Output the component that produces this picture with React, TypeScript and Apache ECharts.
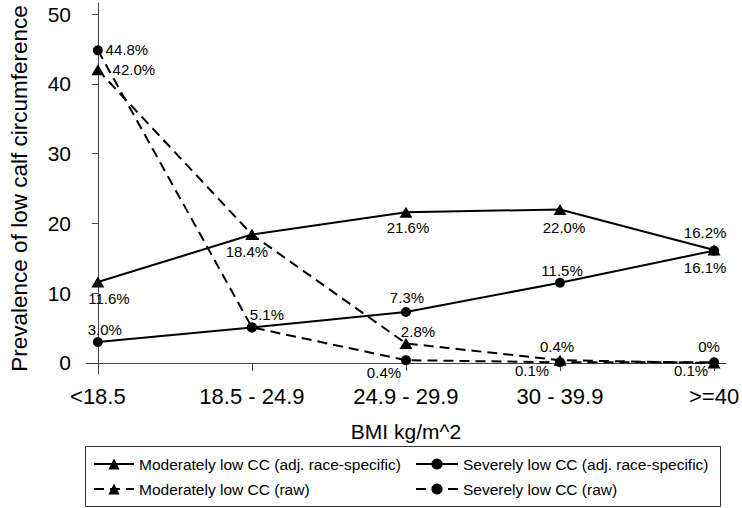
import React, { useEffect, useRef } from "react";
import * as echarts from "echarts";

const categories = ["<18.5", "18.5 - 24.9", "24.9 - 29.9", "30 - 39.9", ">=40"];
const yTicks = [0, 10, 20, 30, 40, 50];
const xTicks = [0, 1, 2, 3, 4];

const modAdj = [11.6, 18.4, 21.6, 22.0, 16.2];
const sevAdj = [3.0, 5.1, 7.3, 11.5, 16.1];
const modRaw = [42.0, 18.4, 2.8, 0.4, 0.0];
const sevRaw = [44.8, 5.1, 0.4, 0.1, 0.1];

const seriesNames = [
  "Moderately low CC (adj. race-specific)",
  "Severely low CC (adj. race-specific)",
  "Moderately low CC (raw)",
  "Severely low CC (raw)",
];

// label offsets relative to each point (layout only)
const modAdjOff = [[11, 16], [-5, 17], [2, 15], [4, 18], [-9, -17]];
const sevAdjOff = [[7, -13], [15, -13], [1, -15], [2, -12], [-9, 17]];
const modRawOff = [[36, 0], null, [12, -12], [-3, -14], [-5, -16]];
const sevRawOff = [[29, -1], null, [-22, 12], [-28, 8], [-23, 8]];

const FONT = "'Liberation Sans', Arial, Helvetica, sans-serif";

const fmt = (v: number) => (v === 0 ? "0%" : v.toFixed(1) + "%");

function buildData(values: number[], offs: (number[] | null)[]) {
  return values.map((v, i) => {
    const off = offs[i];
    return {
      value: [i, v],
      label: off
        ? {
            show: true,
            position: "inside",
            offset: off,
            formatter: fmt(v),
            color: "#000",
            fontSize: 15,
            fontFamily: FONT,
          }
        : { show: false },
    };
  });
}

export default function App() {
  const ref = useRef<HTMLDivElement>(null);
  useEffect(() => {
    if (!ref.current) return;
    const chart = echarts.init(ref.current, null, { renderer: "svg" });
    const lineBase = (name: string, symbol: string, size: any, dashed: boolean, data: any[]) => ({
      name,
      type: "line",
      data,
      symbol,
      symbolSize: size,
      itemStyle: { color: "#000" },
      lineStyle: { color: "#000", width: 2, type: dashed ? [10, 6] : "solid" },
      z: 3,
    });
    const legendItem = (name: string, left: number, top: number, w: number) => ({
      data: [name],
      left,
      top,
      padding: 0,
      itemWidth: w,
      itemHeight: 14,
      itemGap: 5,
      textStyle: { fontSize: 15.5, color: "#000", fontFamily: FONT },
      selectedMode: false,
    });
    chart.setOption({
      animation: false,
      backgroundColor: "#fff",
      textStyle: { fontFamily: FONT },
      grid: { left: 78, right: 15, top: 3, bottom: 134 },
      xAxis: {
        type: "value",
        min: -0.077,
        max: 4.077,
        name: "BMI kg/m^2",
        nameLocation: "middle",
        nameGap: 47,
        nameTextStyle: { fontSize: 21, color: "#000", fontFamily: FONT },
        axisLine: { show: true, lineStyle: { color: "#444", width: 1 } },
        axisTick: { show: true, customValues: xTicks, length: 8, lineStyle: { color: "#444" } },
        axisLabel: {
          customValues: xTicks,
          formatter: (v: number) => categories[Math.round(v)] ?? "",
          fontSize: 22,
          color: "#000",
          margin: 11,
          fontFamily: FONT,
        },
        splitLine: { show: false },
      },
      yAxis: {
        type: "value",
        min: -1.58,
        max: 51.58,
        name: "Prevalence of low calf circumference",
        nameLocation: "middle",
        nameGap: 55,
        nameTextStyle: { fontSize: 22.5, color: "#000", fontFamily: FONT },
        axisLine: { show: true, lineStyle: { color: "#444", width: 1 } },
        axisTick: { show: true, customValues: yTicks, length: 6, lineStyle: { color: "#444" } },
        axisLabel: {
          customValues: yTicks,
          fontSize: 21,
          color: "#000",
          margin: 15,
          fontFamily: FONT,
        },
        splitLine: { show: false },
      },
      legend: [
        legendItem(seriesNames[0], 93, 456, 40),
        legendItem(seriesNames[1], 415, 456, 42),
        legendItem(seriesNames[2], 93, 481, 40),
        legendItem(seriesNames[3], 415, 481, 42),
      ],
      graphic: [
        {
          type: "rect",
          shape: { x: 85.5, y: 446.5, width: 635, height: 60 },
          style: { fill: "none", stroke: "#333", lineWidth: 1 },
          silent: true,
        },
      ],
      series: [
        lineBase(seriesNames[0], "triangle", [13, 11], false, buildData(modAdj, modAdjOff)),
        lineBase(seriesNames[1], "circle", 10, false, buildData(sevAdj, sevAdjOff)),
        lineBase(seriesNames[2], "triangle", [13, 11], true, buildData(modRaw, modRawOff)),
        lineBase(seriesNames[3], "circle", 10, true, buildData(sevRaw, sevRawOff)),
      ],
    });
    return () => chart.dispose();
  }, []);
  return (
    <div
      ref={ref}
      style={{ position: "fixed", left: 0, top: 0, width: 742, height: 508, background: "#fff" }}
    />
  );
}
